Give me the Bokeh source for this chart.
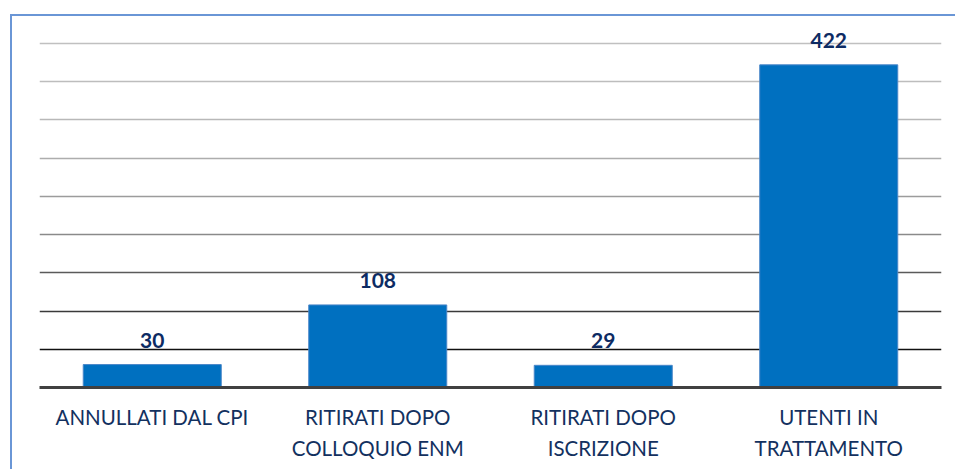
from bokeh.plotting import figure
from bokeh.models import ColumnDataSource, FactorRange, Range1d, Grid, FixedTicker, LabelSet
from bokeh.core.properties import value
from bokeh.embed import file_html
from bokeh.resources import INLINE

categories = ["ANNULLATI DAL CPI", "RITIRATI DOPO\nCOLLOQUIO ENM",
              "RITIRATI DOPO\nISCRIZIONE", "UTENTI IN\nTRATTAMENTO"]
values = [30, 108, 29, 422]
value_labels = ["30", "108", "29", "422"]
grid_values = [50, 100, 150, 200, 250, 300, 350, 400, 450]
grid_colors = ["#111111", "#3A3A3A", "#5A5A5A", "#8A8A8A", "#9C9C9C",
               "#ADADAD", "#B8B8B8", "#BDBDBD", "#C0C0C0"]

src = ColumnDataSource(dict(cat=categories, val=values, lab=value_labels))

p = figure(x_range=FactorRange(factors=categories, range_padding=0),
           y_range=Range1d(0, 480),
           width=955, height=469, output_backend="svg", toolbar_location=None,
           y_axis_location=None, min_border_left=39, min_border_right=14,
           min_border_top=20, min_border_bottom=82)
p.outline_line_color = None
p.border_fill_color = None
p.background_fill_color = None
p.xgrid.visible = False
p.ygrid.visible = False

for v, c in zip(grid_values, grid_colors):
    g = Grid(dimension=1, ticker=FixedTicker(ticks=[v]), grid_line_color=c,
             grid_line_width=1.5)
    p.add_layout(g)

p.vbar(x="cat", top="val", width=0.612, source=src, fill_color="#0070C0",
       line_color="#4A86C8", line_width=1)

labels = LabelSet(x="cat", y="val", text="lab", source=src, text_align="center",
                  text_baseline="alphabetic", y_offset=17,
                  text_font=value("Lato"), text_font_style="bold",
                  text_font_size="21px", text_color="#0D2B63")
p.add_layout(labels)

ax = p.xaxis[0]
ax.axis_line_color = "#404040"
ax.axis_line_width = 3
ax.major_tick_line_color = None
ax.minor_tick_line_color = None
ax.major_label_text_font = "Lato"
ax.major_label_text_font_size = "20.5px"
ax.major_label_text_line_height = 1.3
ax.major_label_text_color = "#13315F"
ax.major_label_standoff = 11

p.styles = {
    "background-image": "linear-gradient(#6A96D6, #6A96D6), linear-gradient(#6A96D6, #6A96D6)",
    "background-size": "100% 2px, 2px 100%",
    "background-position": "10px 14px, 10px 14px",
    "background-repeat": "no-repeat",
}

open("out.html", "w").write(file_html(p, INLINE))
